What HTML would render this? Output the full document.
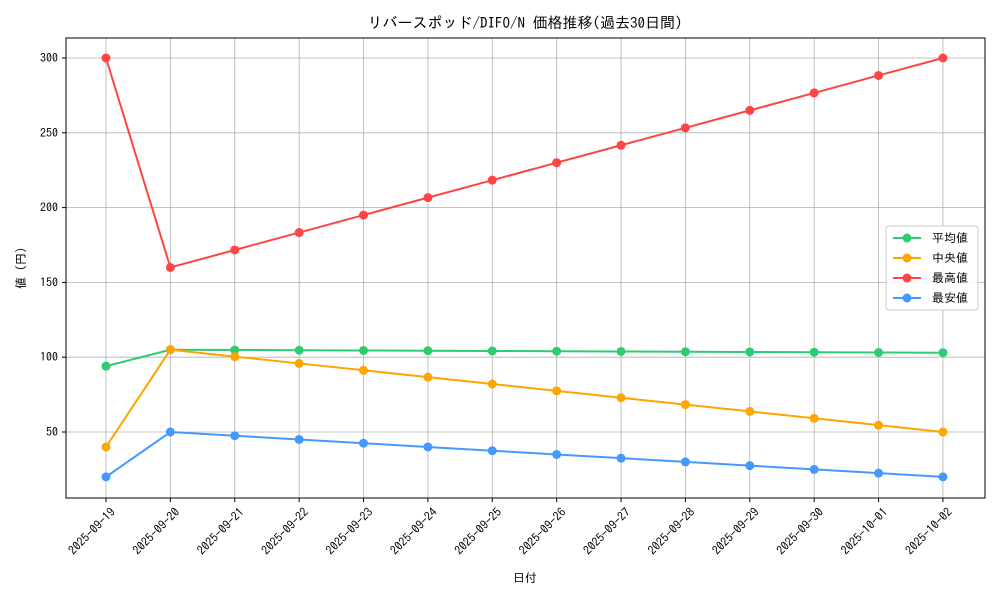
<!DOCTYPE html>
<html><head><meta charset="utf-8"><style>body{margin:0;background:#fff}svg{display:block}text{font-family:"IPAGothic","Noto Sans CJK JP",sans-serif;fill:#000}</style></head>
<body>
<svg id="s" width="1000" height="600" xmlns="http://www.w3.org/2000/svg"></svg>
<script>
const s=document.getElementById('s');let h='';
const X=i=>106+i*64.38, Y=v=>58+(300-v)*1.496;
h+='<rect x="66" y="38" width="919" height="460" fill="#fff"/>';
const dates=['2025-09-19','2025-09-20','2025-09-21','2025-09-22','2025-09-23','2025-09-24','2025-09-25','2025-09-26','2025-09-27','2025-09-28','2025-09-29','2025-09-30','2025-10-01','2025-10-02'];
dates.forEach((d,i)=>{const x=X(i);h+=`<line x1="${x}" y1="38" x2="${x}" y2="498" stroke="#b0b0b0" stroke-width="0.8"/><line x1="${x}" y1="498" x2="${x}" y2="502" stroke="#000"/>`;
h+=`<text transform="translate(${x+4},${507}) rotate(-45)" text-anchor="end" font-size="12" dy="0.7em">${d}</text>`;});
[50,100,150,200,250,300].forEach(v=>{const y=Y(v);h+=`<line x1="66" y1="${y}" x2="985" y2="${y}" stroke="#b0b0b0" stroke-width="0.8"/><line x1="62" y1="${y}" x2="66" y2="${y}" stroke="#000"/><text x="58" y="${y+4}" text-anchor="end" font-size="12">${v}</text>`;});
h+='<rect x="66" y="38" width="919" height="460" fill="none" stroke="#000" stroke-width="1"/>';
const mx=[300],md=[40],mn=[20],av=[94];
for(let k=0;k<13;k++){mx.push(160+k*140/12);md.push(105-k*55/12);mn.push(50-k*30/12);av.push(105-k*2/12);}
[[av,'#2ecc71'],[md,'#ffa500'],[mx,'#ff4444'],[mn,'#4499ff']].forEach(([d,c])=>{
h+=`<polyline fill="none" stroke="${c}" stroke-width="2" points="${d.map((v,i)=>X(i)+','+Y(v)).join(' ')}"/>`;
d.forEach((v,i)=>h+=`<circle cx="${X(i)}" cy="${Y(v)}" r="4.5" fill="${c}"/>`);});
h+='<text x="525" y="28" text-anchor="middle" font-size="15">リバースポッド/DIFO/N 価格推移(過去30日間)</text>';
h+='<text x="525" y="582" text-anchor="middle" font-size="12">日付</text>';
h+='<text transform="translate(25,268) rotate(-90)" text-anchor="middle" font-size="12">値 (円)</text>';
h+='<rect x="886" y="226" width="92" height="84" rx="3" fill="#fff" fill-opacity="0.85" stroke="#ccc"/>';
[['平均値','#2ecc71'],['中央値','#ffa500'],['最高値','#ff4444'],['最安値','#4499ff']].forEach(([t,c],i)=>{const y=238+i*20;
h+=`<line x1="893" y1="${y}" x2="921" y2="${y}" stroke="${c}" stroke-width="2"/><circle cx="907" cy="${y}" r="4.5" fill="${c}"/><text x="932" y="${y+4}" font-size="12">${t}</text>`;});
s.innerHTML=h;
</script>
</body></html>
